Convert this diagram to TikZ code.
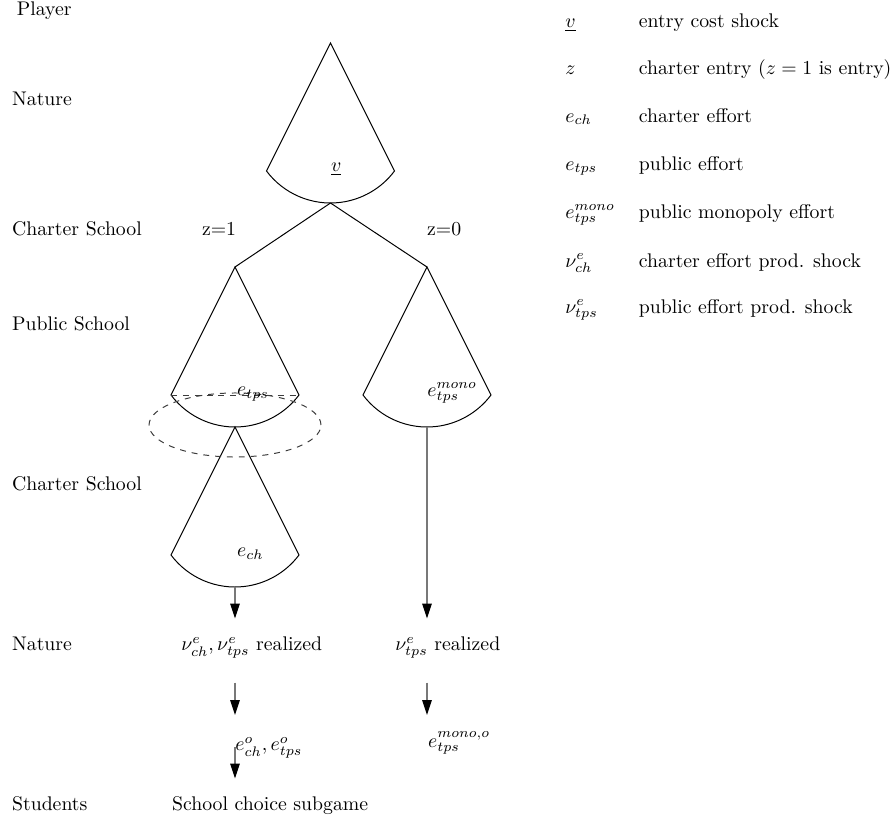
\documentclass[tikz,border=0pt]{standalone}
\usetikzlibrary{arrows.meta}
\definecolor{shaft}{RGB}{120,120,120}
\definecolor{dashc}{RGB}{60,60,60}
\tikzset{
  lbl/.style={inner sep=0pt, anchor=base west},
  clbl/.style={inner sep=0pt, anchor=base},
  fanline/.style={line width=0.5pt, black},
  edge/.style={line width=0.5pt, black},
  arr/.style={line width=0.6pt, draw=shaft, -{Triangle[length=7.5pt,width=4.8pt,black]}},
  infoset/.style={dashed, line width=0.5pt, draw=dashc},
}
\newcommand\myfan[1]{\draw[fanline] (#1) -- ++(-64,128) arc[start angle=216.87,end angle=323.13,radius=40.48pt] -- cycle;}
\begin{document}
\begin{tikzpicture}[x=0.506pt,y=-0.506pt]
\useasboundingbox (0,0) rectangle (894,821);
% player column
\node[lbl] (pl) at (16.5,16) {Player};
\node[lbl] (p1) at (11.7,106) {Nature};
\node[lbl] (p2) at (11.7,235) {Charter School};
\node[lbl] (p3) at (11.7,330) {Public School};
\node[lbl] (p4) at (11.7,490.5) {Charter School};
\node[lbl] (p5) at (11.7,650.5) {Nature};
\node[lbl] (p6) at (11.7,810) {Students};
% tree coordinates
\coordinate (topA) at (330.5,43);
\coordinate (topB) at (330.5,203);
\coordinate (lA) at (235,267);
\coordinate (lB) at (235,427);
\coordinate (rA) at (427,267);
\coordinate (rB) at (427,427);
\coordinate (chA) at (235,427);
\coordinate (chB) at (235,587);
\coordinate (lcl) at (171,395);
\coordinate (lcr) at (299,395);
% fans
\myfan{topA}
\myfan{lA}
\myfan{rA}
\myfan{chA}
\draw[edge] (topB) -- (lA);
\draw[edge] (topB) -- (rA);
% information set
\draw[infoset] (lcl) -- (lcr);
\draw[infoset] (235,425) ellipse [x radius=43.5pt, y radius=16.2pt];
% labels in tree
\node[lbl] (vlab) at (330.7,171.5) {$\underline{v}$};
\node[lbl] (z1) at (201.7,235) {z=1};
\node[lbl] (z0) at (426.7,235) {z=0};
\node[lbl] (etps) at (236.7,395.5) {$e_{tps}$};
\node[lbl] (emono) at (427,396) {$e_{tps}^{mono}$};
\node[lbl] (ech) at (236.7,556.5) {$e_{ch}$};
\node[lbl] (nuL) at (181,650.5) {$\nu^e_{ch}, \nu^e_{tps}$ realized};
\node[lbl] (nuR) at (395,650.5) {$\nu^e_{tps}$ realized};
\node[lbl] (eoL) at (235,750.5) {$e^o_{ch}, e^o_{tps}$};
\node[lbl] (eoR) at (427.7,747) {$e_{tps}^{mono,o}$};
\node[lbl] (scs) at (171.7,810) {School choice subgame};
% arrows
\coordinate (a1e) at (235,618.5);
\coordinate (a2e) at (427,618.5);
\coordinate (a3s) at (235,682.7);
\coordinate (a3e) at (235,715);
\coordinate (a4s) at (427,682.7);
\coordinate (a4e) at (427,715);
\coordinate (a5s) at (235,747);
\coordinate (a5e) at (235,778.5);
\draw[arr] (chB) -- (a1e);
\draw[arr] (rB) -- (a2e);
\draw[arr] (a3s) -- (a3e);
\draw[arr] (a4s) -- (a4e);
\draw[arr] (a5s) -- (a5e);
% legend
\node[lbl] (s1) at (565,28) {$\underline{v}$};
\node[lbl] (d1) at (638.5,28) {entry cost shock};
\node[lbl] (s2) at (565,75) {$z$};
\node[lbl] (d2) at (638.5,75) {charter entry ($z=1$ is entry)};
\node[lbl] (s3) at (565,122) {$e_{ch}$};
\node[lbl] (d3) at (638.5,122) {charter effort};
\node[lbl] (s4) at (565,170) {$e_{tps}$};
\node[lbl] (d4) at (638.5,170) {public effort};
\node[lbl] (s5) at (565,218) {$e_{tps}^{mono}$};
\node[lbl] (d5) at (638.5,218) {public monopoly effort};
\node[lbl] (s6) at (565,267) {$\nu^e_{ch}$};
\node[lbl] (d6) at (638.5,267) {charter effort prod. shock};
\node[lbl] (s7) at (565,313) {$\nu^e_{tps}$};
\node[lbl] (d7) at (638.5,313) {public effort prod. shock};
\end{tikzpicture}
\end{document}
